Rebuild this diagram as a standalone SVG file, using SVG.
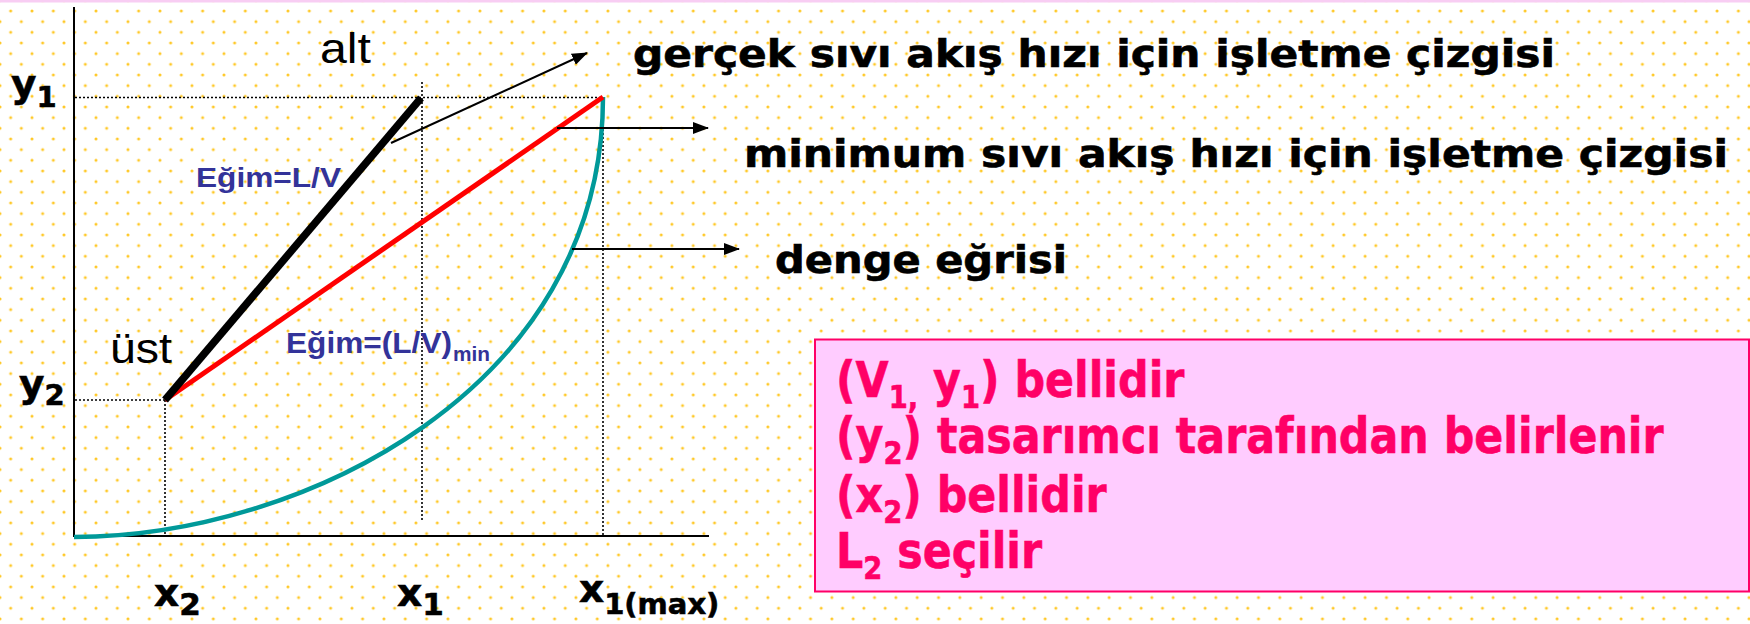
<svg xmlns="http://www.w3.org/2000/svg" width="1750" height="624" viewBox="0 0 1750 624">
<defs>
<pattern id="dots" patternUnits="userSpaceOnUse" x="0" y="0.3" width="21.33" height="21.33">
<circle cx="0" cy="0" r="1.5" fill="#FFC20E" opacity="0.9"/>
<circle cx="21.33" cy="0" r="1.5" fill="#FFC20E" opacity="0.9"/>
<circle cx="0" cy="21.33" r="1.5" fill="#FFC20E" opacity="0.9"/>
<circle cx="21.33" cy="21.33" r="1.5" fill="#FFC20E" opacity="0.9"/>
<circle cx="10.67" cy="10.67" r="1.5" fill="#FFC20E" opacity="0.9"/>
</pattern>
<marker id="arr" markerWidth="16" markerHeight="12" refX="15" refY="6" orient="auto" markerUnits="userSpaceOnUse">
<path d="M0,0 L16,6 L0,12 Z" fill="#000"/>
</marker>
<style>
.dot{stroke:#000;stroke-width:1.6;stroke-dasharray:2 2;fill:none}
.axis{stroke:#000;stroke-width:2;fill:none}
.lbl{font-family:"DejaVu Sans",Verdana,sans-serif;font-weight:bold;fill:#000;stroke:#000;stroke-width:0.6}
.blue{font-family:"Liberation Sans",Arial,sans-serif;font-weight:bold;fill:#333399}
.plain{font-family:"Liberation Sans",Arial,sans-serif;fill:#000}
.pink{font-family:"DejaVu Sans",Verdana,sans-serif;font-weight:bold;fill:#FF0066;stroke:#FF0066;stroke-width:0.6;font-size:50px}
.sub{font-size:32px}
.conn{stroke:#000;stroke-width:2;fill:none;marker-end:url(#arr)}
</style>
</defs>
<rect x="0" y="0" width="1750" height="624" fill="#fff"/>
<rect x="0" y="0" width="1750" height="624" fill="url(#dots)"/>
<rect x="0" y="0" width="1750" height="2.5" fill="#F8CDF3"/>

<g id="axes">
<line class="axis" x1="74" y1="7" x2="74" y2="537"/>
<line class="axis" x1="73" y1="536" x2="709" y2="536"/>
<line class="dot" x1="75" y1="97.5" x2="603" y2="97.5"/>
<line class="dot" x1="75" y1="400" x2="165" y2="400"/>
<line class="dot" x1="422" y1="82" x2="422" y2="520"/>
<line class="dot" x1="165" y1="400" x2="165" y2="535"/>
<line class="dot" x1="603" y1="97" x2="603" y2="535"/>
</g>

<g id="equilibrium-curve">
<path d="M74,537 C300,537 603,390 603,97" fill="none" stroke="#009999" stroke-width="4.5"/>
</g>
<g id="min-operating-line">
<line x1="165" y1="400" x2="603" y2="97" stroke="#FF0000" stroke-width="5"/>
</g>
<g id="actual-operating-line">
<line x1="165" y1="400" x2="421" y2="98" stroke="#000" stroke-width="7.5"/>
</g>

<g id="connectors">
<line class="conn" x1="391" y1="143" x2="587" y2="53"/>
<line class="conn" x1="557" y1="128" x2="708" y2="128"/>
<line class="conn" x1="572" y1="249" x2="739" y2="249"/>
</g>

<g id="axis-labels">
<text class="lbl" x="11" y="97" font-size="39">y<tspan font-size="29" dy="10">1</tspan></text>
<text class="lbl" x="19" y="397" font-size="39">y<tspan font-size="29" dy="8">2</tspan></text>
<text class="lbl" x="154" y="606" font-size="39">x<tspan font-size="31" dy="9">2</tspan></text>
<text class="lbl" x="397" y="606" font-size="39">x<tspan font-size="31" dy="9">1</tspan></text>
<text class="lbl" x="579" y="602" font-size="39">x<tspan font-size="29" dy="12">1(max)</tspan></text>
</g>

<g id="end-labels">
<text class="plain" x="320" y="63" font-size="42" textLength="51" lengthAdjust="spacingAndGlyphs">alt</text>
<text class="plain" x="110" y="363" font-size="42" textLength="62" lengthAdjust="spacingAndGlyphs">üst</text>
</g>

<g id="slope-labels">
<text class="blue" x="196" y="187" font-size="28" textLength="145" lengthAdjust="spacingAndGlyphs">Eğim=L/V</text>
<text class="blue" x="286" y="353" font-size="29" textLength="166" lengthAdjust="spacingAndGlyphs">Eğim=(L/V)</text>
<text class="blue" x="453" y="361" font-size="21" textLength="37" lengthAdjust="spacingAndGlyphs">min</text>
</g>

<g id="label-actual">
<text class="lbl" x="633" y="67" font-size="37" textLength="922" lengthAdjust="spacingAndGlyphs">gerçek sıvı akış hızı için işletme çizgisi</text>
</g>
<g id="label-min">
<text class="lbl" x="744" y="167" font-size="37" textLength="984" lengthAdjust="spacingAndGlyphs">minimum sıvı akış hızı için işletme çizgisi</text>
</g>
<g id="label-equilibrium">
<text class="lbl" x="775" y="273" font-size="37" textLength="292" lengthAdjust="spacingAndGlyphs">denge eğrisi</text>
</g>

<g id="info-box">
<rect x="815" y="339.5" width="934" height="252" fill="#FFCCFF" stroke="#FF0066" stroke-width="2"/>
<g transform="translate(836,0) scale(0.856,1)">
<text class="pink" x="0" y="397">(V<tspan class="sub" dy="11">1,</tspan><tspan dy="-11"> y</tspan><tspan class="sub" dy="11">1</tspan><tspan dy="-11">) bellidir</tspan></text>
<text class="pink" x="0" y="453">(y<tspan class="sub" dy="11">2</tspan><tspan dy="-11">) tasarımcı tarafından belirlenir</tspan></text>
<text class="pink" x="0" y="512">(x<tspan class="sub" dy="11">2</tspan><tspan dy="-11">) bellidir</tspan></text>
<text class="pink" x="0" y="568">L<tspan class="sub" dy="11">2</tspan><tspan dy="-11"> seçilir</tspan></text>
</g>
</g>
</svg>
